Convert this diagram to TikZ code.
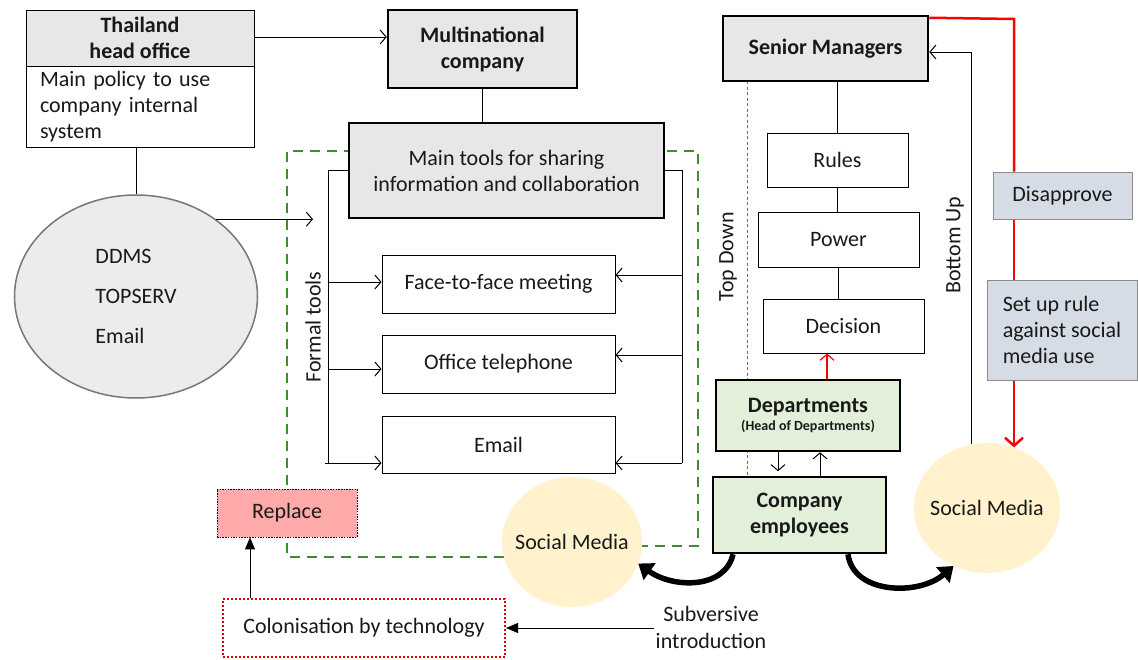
\documentclass[tikz,border=0pt]{standalone}
\usepackage{fontspec}
\setmainfont{Carlito}
\usetikzlibrary{arrows.meta,backgrounds,shapes.geometric}
\definecolor{boxgray}{HTML}{E7E7E7}
\definecolor{ellgray}{HTML}{ECECEC}
\definecolor{ellline}{HTML}{777777}
\definecolor{boxgreen}{HTML}{E2F0D9}
\definecolor{smyellow}{HTML}{FFF2CC}
\definecolor{bluegray}{HTML}{D6DCE5}
\definecolor{bgline}{HTML}{8C8C8C}
\definecolor{pinkfill}{HTML}{FFAAAA}
\definecolor{gdash}{HTML}{3E8E2E}
\definecolor{bluedot}{HTML}{4472C4}
\definecolor{redline}{HTML}{FF0000}
\definecolor{reddot}{HTML}{E00000}
\newcommand\mainfs{\fontsize{22}{26}\selectfont}
\tikzset{
  base/.style={draw, inner sep=2pt, align=center, font=\mainfs, text=black!90},
  thickbox/.style={base, line width=2.5pt, fill=boxgray},
  thinbox/.style={base, line width=1pt, fill=white},
  greenbox/.style={base, line width=2.5pt, fill=boxgreen},
  bgbox/.style={base, line width=1pt, draw=bgline, fill=bluegray},
  smcircle/.style={ellipse, fill=smyellow, inner sep=0pt, label={[font=\mainfs, text=black!90]center:Social Media}},
  barb/.style={line width=1pt, -{Straight Barb[length=6pt,width=14pt]}},
  tri/.style={line width=1pt, -{Triangle[length=12pt,width=10pt]}},
  conn/.style={line width=1pt},
  fat/.style={line width=5.5pt, -{Triangle[length=14pt,width=20pt]}},
  rotlabel/.style={rotate=90, font=\mainfs, inner sep=0pt, text=black!90}
}
\begin{document}
\begin{tikzpicture}[x=1pt,y=-1pt]
\useasboundingbox (0,0) rectangle (1138,659);

% ---- left part
\node[base, line width=1pt, fill=boxgray, minimum width=228pt, minimum height=56pt, font=\mainfs\bfseries] (thaiH) at (140,38) {Thailand\\head office};
\node[base, line width=1pt, fill=white, minimum width=228pt, minimum height=81pt, text width=200pt, inner xsep=14pt, align=left] (thaiB) at (140,106.5) {Main policy to use\\company internal\\system};
\node[ellipse, draw=ellline, line width=1.5pt, fill=ellgray, minimum width=243pt, minimum height=203pt, align=left, text=black!90, font=\fontsize{22}{40}\selectfont] (ell) at (136,296.5) {DDMS\\TOPSERV\\Email};

\node[thickbox, minimum width=189pt, minimum height=78pt, font=\mainfs\bfseries] (multi) at (482.5,49) {Multinational\\company};
\node[thickbox, minimum width=315pt, minimum height=95pt] (tools) at (506.5,170.5) {Main tools for sharing\\information and collaboration};
\node[thinbox, minimum width=233pt, minimum height=58pt] (f2f) at (498.5,284) {Face-to-face meeting};
\node[thinbox, minimum width=233pt, minimum height=58pt] (phone) at (498.5,364) {Office telephone};
\node[thinbox, minimum width=233pt, minimum height=57pt] (email) at (498.5,444.5) {Email};
\node[rotlabel] (formal) at (313,327) {Formal tools};

\node[smcircle, minimum width=140pt, minimum height=130pt] (sm1) at (572,542) {};
\node[base, line width=0.8pt, dash pattern=on 1.5pt off 1.2pt, fill=pinkfill, minimum width=140pt, minimum height=48pt] (replace) at (287,513) {Replace};
\node[base, draw=reddot, line width=2pt, dash pattern=on 2pt off 2pt, fill=white, minimum width=282pt, minimum height=58pt] (colon) at (364,628) {Colonisation by technology};
\node[font=\fontsize{22}{27}\selectfont, align=center, inner sep=2pt, text=black!90] (subv) at (711,627) {Subversive\\introduction};

% ---- right part
\node[thickbox, minimum width=205pt, minimum height=65pt, font=\mainfs\bfseries] (senior) at (825.5,48.5) {Senior Managers};
\node[thinbox, minimum width=141pt, minimum height=54pt] (rules) at (837.5,160) {Rules};
\node[thinbox, minimum width=161pt, minimum height=55pt] (power) at (838.5,239.5) {Power};
\node[thinbox, minimum width=161pt, minimum height=54pt] (decision) at (843.5,326) {Decision};
\node[greenbox, minimum width=184pt, minimum height=71pt, font=\fontsize{22}{20}\selectfont\bfseries] (dept) at (808,415.5) {Departments\\[-2pt]{\fontsize{14}{16}\selectfont(Head of Departments)}};
\node[greenbox, minimum width=173pt, minimum height=76pt, font=\mainfs\bfseries] (emp) at (799.5,515) {Company\\employees};
\node[rotlabel] (topdown) at (728,257) {Top Down};
\node[rotlabel] (bottomup) at (955,245) {Bottom Up};
\node[bgbox, minimum width=139pt, minimum height=47pt] (disap) at (1062.5,195.5) {Disapprove};
\node[bgbox, minimum width=150pt, minimum height=100pt, align=left] (setup) at (1062,330) {Set up rule\\against social\\media use};
\node[smcircle, minimum width=146pt, minimum height=130pt] (sm2) at (987,508) {};

% ---- background lines
\begin{scope}[on background layer]
  \coordinate (g1) at (287,557);
  \coordinate (g2) at (287,151);
  \coordinate (g3) at (698,151);
  \coordinate (g4) at (698,546);
  \draw[draw=gdash, line width=2.5pt, dash pattern=on 10pt off 7pt] (sm1.center |- g1) -- (g1) -- (g2) -- (g3) -- (g4) -- (g4 -| sm1.center);
  \coordinate (bdt) at (747,81);
  \coordinate (bdb) at (747,477);
  \draw[draw=bluedot, line width=1pt, dash pattern=on 3pt off 2.5pt] (bdt) -- (bdb);
\end{scope}

% ---- connectors left
\draw[barb] (thaiH.east |- 0,37) -- (multi.west |- 0,37);
\draw[conn] (thaiB.south -| ell.north) -- (ell.north);
\draw[conn] (multi.south) -- (multi.south |- tools.north);
\coordinate (fin) at (313,216);
\draw[barb] (ell.44) -- (ell.44 -| fin);

\coordinate (lbt) at (328,170.5);
\coordinate (lbb) at (328,463);
\draw[conn] (tools.west) -- (lbt) -- (lbb);
\draw[barb] (lbt |- 0,282) -- (f2f.west |- 0,282);
\draw[barb] (lbt |- 0,369) -- (phone.west |- 0,369);
\draw[barb] ([xshift=-3pt]lbb) -- (lbb -| email.west);

\coordinate (rbt) at (682,170.5);
\coordinate (rbb) at (682,463);
\draw[conn] (tools.east) -- (rbt) -- (rbb);
\draw[barb] (rbt |- 0,275) -- (f2f.east |- 0,275);
\draw[barb] (rbt |- 0,355) -- (phone.east |- 0,355);
\draw[barb] (rbb) -- (rbb -| email.east);

\draw[tri] (subv.west |- colon.east) -- (colon.east);
\draw[tri] ([xshift=-114pt]colon.north) -- ([xshift=-114pt]colon.north |- replace.south);

% ---- connectors right
\draw[conn] (rules.north) -- (rules.north |- senior.south);
\draw[conn] (rules.south) -- (rules.south |- power.north);
\draw[conn] (power.south) -- (power.south |- decision.north);
\draw[line width=1.2pt, draw=redline, -{Straight Barb[length=6pt,width=14pt]}] ([xshift=19pt]dept.north) -- ([xshift=19pt]dept.north |- decision.south);
\draw[barb] ([xshift=-30pt]dept.south) -- ++(0,19);
\draw[barb] ([xshift=12pt]dept.south |- emp.north) -- ([xshift=12pt]dept.south);

\coordinate (bu) at (971,52);
\draw[conn] (bu |- sm2.104) -- (bu);
\draw[barb] (bu) -- (bu -| senior.east);

\coordinate (rc) at (1014,19);
\draw[draw=redline, line width=2.5pt] ([yshift=-3pt]senior.north east) -- (rc) -- (rc |- disap.north);
\draw[draw=redline, line width=2.5pt] (rc |- disap.south) -- (rc |- setup.north);
\draw[draw=redline, line width=2.5pt, -{Straight Barb[length=8pt,width=18pt]}] (rc |- setup.south) -- (rc |- sm2.66);

% ---- curved fat arrows
\draw[fat] ([xshift=-66.5pt]emp.south) .. controls +(-8,35) and +(35,25) .. (sm1.-18);
\draw[fat] ([xshift=48.5pt]emp.south) .. controls +(5,40) and +(-35,30) .. (sm2.240);
\end{tikzpicture}
\end{document}
